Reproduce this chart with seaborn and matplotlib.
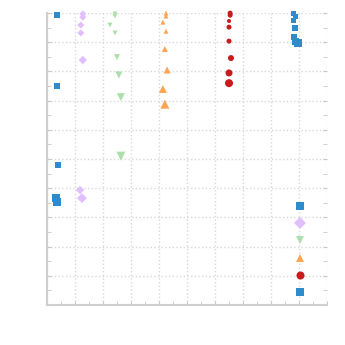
import numpy as np
import pandas as pd
import matplotlib
matplotlib.use("Agg")
import matplotlib.pyplot as plt
import seaborn as sns
from matplotlib.lines import Line2D

# series values (x, y on a 0..10 grid, marker size in px)
s1_x = [0.36, 0.36, 0.39, 0.32, 0.36]
s1_y = [9.93, 7.5, 4.79, 3.66, 3.53]
s1_px = [6, 6, 6, 8, 8]

s2_x = [1.28, 1.28, 1.21, 1.21, 1.28, 1.18, 1.25]
s2_y = [9.97, 9.86, 9.59, 9.32, 8.39, 3.94, 3.66]
s2_px = [5, 5, 5, 5, 6, 6, 7]

s3_x = [2.43, 2.43, 2.25, 2.43, 2.5, 2.57, 2.64, 2.64]
s3_y = [9.97, 9.9, 9.59, 9.32, 8.49, 7.88, 7.12, 5.1]
s3_px = [5, 5, 5, 5, 6, 7, 8, 9]

s4_x = [4.25, 4.25, 4.14, 4.25, 4.21, 4.29, 4.14, 4.21]
s4_y = [10.0, 9.9, 9.69, 9.38, 8.77, 8.05, 7.4, 6.88]
s4_px = [5, 5, 5, 5, 6, 7, 8, 9]

s5_x = [6.54, 6.54, 6.5, 6.5, 6.5, 6.57, 6.5, 6.5]
s5_y = [10.0, 9.93, 9.73, 9.52, 9.04, 8.46, 7.95, 7.6]
s5_px = [5, 5, 4, 5, 5, 6, 7, 8]

s6_x = [8.79, 8.89, 8.79, 8.86, 8.82, 8.89, 8.96]
s6_y = [10.0, 9.9, 9.76, 9.49, 9.18, 9.04, 8.97]
s6_px = [5, 5, 5, 6, 6, 7, 8]

names = ["a", "b", "c", "d", "e", "f"]
colors = ["#2e8bcc", "#e0bfff", "#addfad", "#fea552", "#cc1a1a", "#2e8bcc"]
marks = ["s", "D", "v", "^", "o", "s"]

xs = [s1_x, s2_x, s3_x, s4_x, s5_x, s6_x]
ys = [s1_y, s2_y, s3_y, s4_y, s5_y, s6_y]
pxs = [s1_px, s2_px, s3_px, s4_px, s5_px, s6_px]

rows = []
for n, x, y, p in zip(names, xs, ys, pxs):
    for a, b, c in zip(x, y, p):
        rows.append({"series": n, "x": a, "y": b, "px": c})
df = pd.DataFrame(rows)

sns.set_style("white")
fig = plt.figure(figsize=(3.45, 3.45), dpi=100)
ax = fig.add_axes([0.136, 0.116, 0.812, 0.846])

size_map = {p: (p * 0.72) ** 2 for p in df.px.unique()}
sns.scatterplot(data=df, x="x", y="y", hue="series", style="series",
                size="px", sizes=size_map,
                palette=dict(zip(names, colors)),
                markers=dict(zip(names, marks)),
                linewidth=0, legend=False, clip_on=False, ax=ax)

ax.set_xlim(0, 10)
ax.set_ylim(0, 10)
ax.set_xticks(np.arange(0, 11, 1))
ax.set_yticks(np.arange(0, 11, 1))
ax.set_xticks(np.arange(0.5, 10, 1), minor=True)
ax.set_yticks(np.arange(0.5, 10, 1), minor=True)
ax.set_xticklabels([])
ax.set_yticklabels([])
ax.set_xlabel("")
ax.set_ylabel("")
ax.grid(True, which="major", color="#d8d8d8", linestyle=":", linewidth=1)
ax.tick_params(which="both", direction="in", length=3, color="#c8c8c8",
               left=True, bottom=True, right=True)
for side in ["top", "right"]:
    ax.spines[side].set_visible(False)
for side in ["left", "bottom"]:
    ax.spines[side].set_color("#cfcfcf")
    ax.spines[side].set_linewidth(1.5)

handles = [Line2D([], [], marker=m, color=c, linestyle="", markersize=5.8,
                  markeredgewidth=0) for m, c in zip(marks, colors)]
ax.legend(handles, [""] * 6, frameon=False, loc="lower right",
          bbox_to_anchor=(0.959, -0.011), handlelength=1, handletextpad=0,
          labelspacing=0.66, fontsize=8)

fig.savefig("out.png", dpi=100)
